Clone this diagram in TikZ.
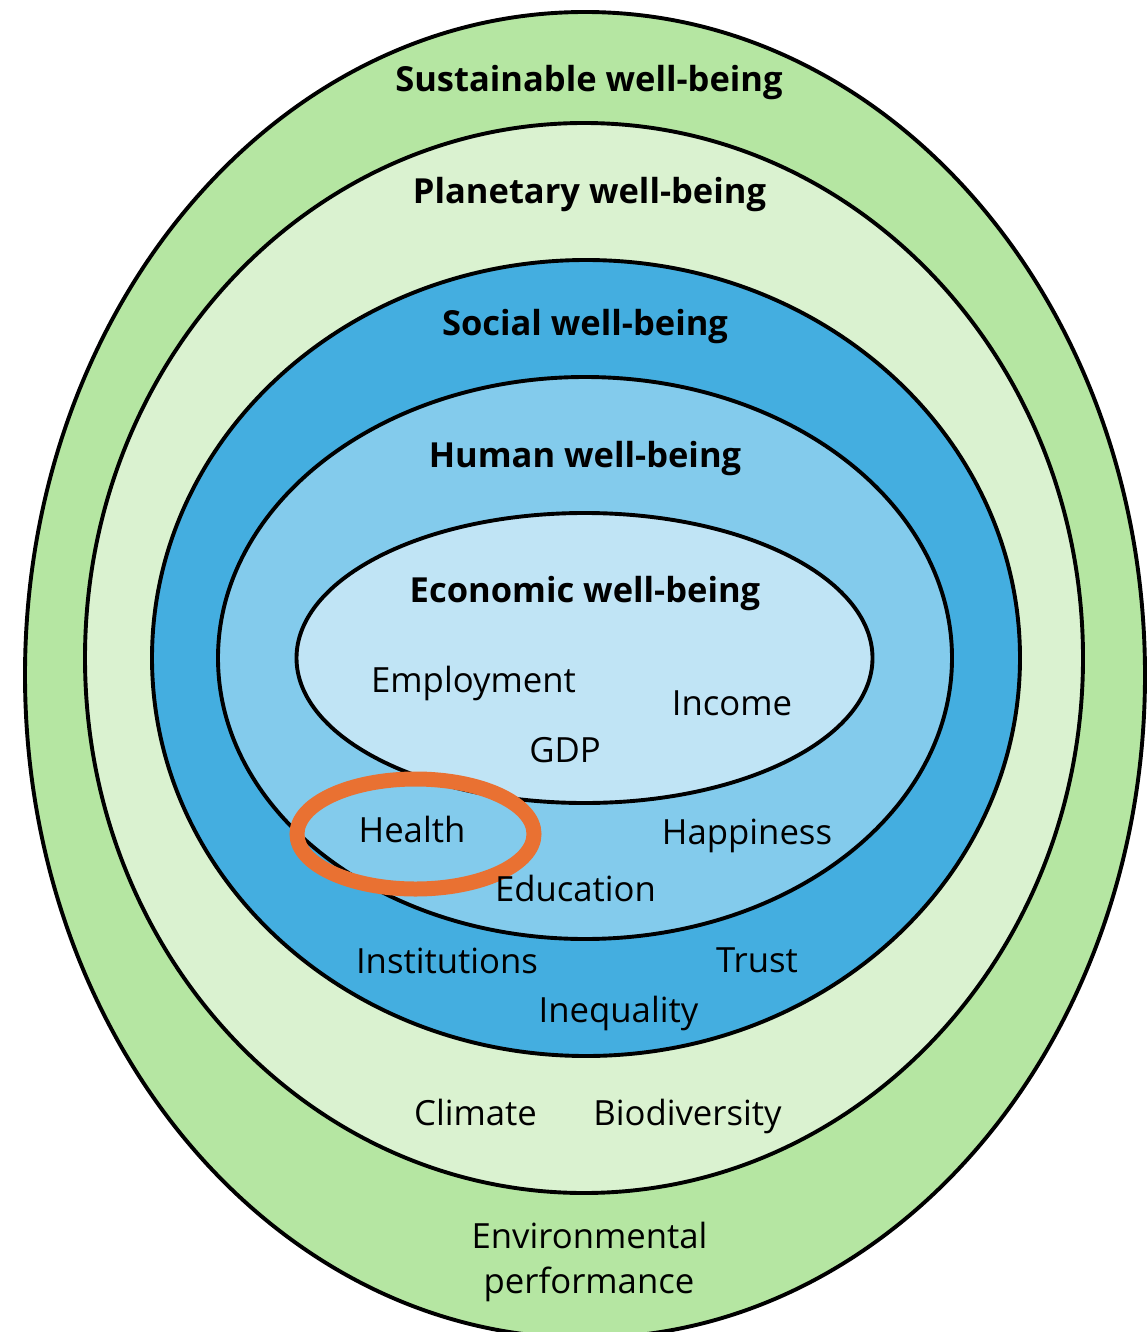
\documentclass[tikz,border=0pt]{standalone}
\usepackage{fontspec}
\setmainfont{Open Sans}
\definecolor{sustgreen}{HTML}{B5E6A2}
\definecolor{planetgreen}{HTML}{DAF2D0}
\definecolor{socialblue}{HTML}{44AEE0}
\definecolor{humanblue}{HTML}{83CBEC}
\definecolor{econblue}{HTML}{C0E4F5}
\definecolor{healthorange}{HTML}{E97132}
\begin{document}
\begin{tikzpicture}[x=1pt,y=-1pt,
  ring/.style={draw=black,line width=3.9pt},
  title/.style={anchor=base,inner sep=0pt,font=\fontsize{34.5}{40}\selectfont\bfseries},
  item/.style={anchor=base,inner sep=0pt,font=\fontsize{34.7}{40}\selectfont}]
\useasboundingbox (0,0) rectangle (1147,1332);
\fill[white] (0,0) rectangle (1147,1332);
% rings
\draw[ring,fill=sustgreen] (585,675) ellipse [x radius=560,y radius=663];
\draw[ring,fill=planetgreen] (584,658) ellipse [x radius=499,y radius=535];
\draw[ring,fill=socialblue] (586,658) ellipse [x radius=434,y radius=398];
\draw[ring,fill=humanblue] (585,658) ellipse [x radius=367,y radius=281];
\draw[ring,fill=econblue] (584.5,658) ellipse [x radius=288,y radius=145];
% highlight
\draw[healthorange,line width=15pt] (415.5,834) ellipse [x radius=118.5,y radius=55];
% titles
\node[title] (sust) at (589,92) {Sustainable well-being};
\node[title] (planet) at (589.5,204) {Planetary well-being};
\node[title] (social) at (585,335) {Social well-being};
\node[title] (human) at (585,467) {Human well-being};
\node[title] (econ) at (585,602) {Economic well-being};
% items
\node[item] (employment) at (473.5,692) {Employment};
\node[item] (income) at (732,715) {Income};
\node[item] (gdp) at (565,762) {GDP};
\node[item] (health) at (412,842) {Health};
\node[item] (happiness) at (747,844) {Happiness};
\node[item] (education) at (575.5,901) {Education};
\node[item] (institutions) at (447,973) {Institutions};
\node[item] (trust) at (757,972) {Trust};
\node[item] (inequality) at (618.5,1022) {Inequality};
\node[item] (climate) at (475.5,1125) {Climate};
\node[item] (biodiversity) at (687.5,1125) {Biodiversity};
\node[item] (environmental) at (589.5,1248) {Environmental};
\node[item] (performance) at (589,1293) {performance};
\end{tikzpicture}
\end{document}
